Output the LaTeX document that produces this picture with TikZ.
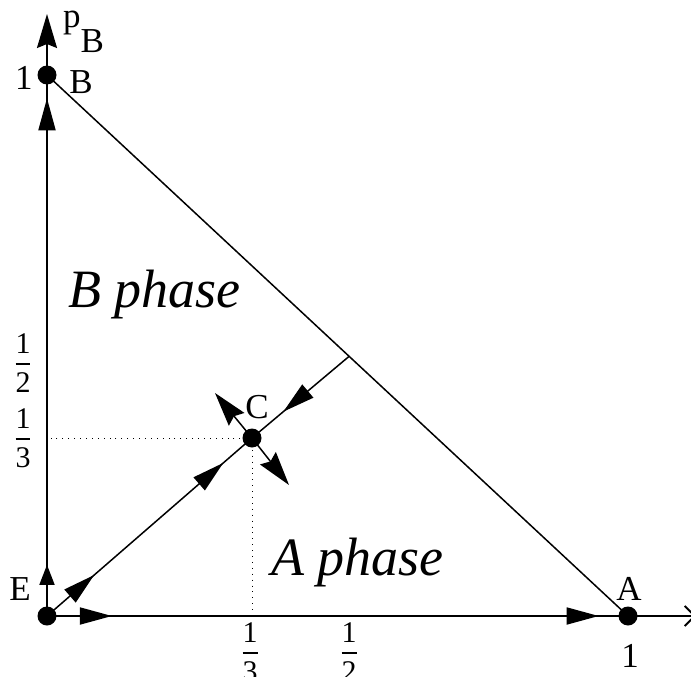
\documentclass[tikz,border=0pt]{standalone}
\usepackage{amsmath}
\usepackage{fontspec}
\setmainfont{Liberation Serif}
\usetikzlibrary{arrows.meta, decorations.markings, calc}

\newcommand{\stackfrac}[2]{$\genfrac{}{}{2.4pt}{0}{\text{#1}}{\text{#2}}$}

\begin{document}
\begin{tikzpicture}[
  x=1pt, y=-1pt,
  dot/.style={circle, fill, inner sep=0pt, minimum size=19pt},
  axis/.style={line width=1.8pt},
  edge/.style={line width=1.5pt},
  guide/.style={line width=0.9pt, dash pattern=on 0.9pt off 5pt},
  tip/.style={-{Stealth[length=34pt, width=20pt, inset=4pt]}},
  midarr/.style={postaction={decorate, decoration={markings, mark=at position #1 with {\arrow{Triangle[length=32pt, width=17pt]}}}}},
  shortarr/.style={postaction={decorate, decoration={markings, mark=at position #1 with {\arrow{Triangle[length=20pt, width=15pt]}}}}},
  lbl/.style={font=\fontsize{35}{40}\selectfont, inner sep=0pt, anchor=base},
  phase/.style={font=\fontsize{54}{60}\selectfont\itshape, inner sep=0pt, anchor=base west},
  frac/.style={font=\fontsize{30}{34}\selectfont, inner sep=0pt, anchor=base}
]
\useasboundingbox (0,0) rectangle (691,677);

% fixed points
\node[dot] (E) at (47,616) {};
\node[dot] (A) at (628,616) {};
\node[dot] (B) at (47,75) {};
\node[dot] (C) at (252,438) {};
\coordinate (F) at ($(B.center)!0.52!(A.center)$);
\coordinate (ytop) at (47,14);
\coordinate (xend) at (696,616);
\coordinate (Cul) at (215,393);
\coordinate (Cdr) at (289,485);

% axes
\draw[axis, tip, shortarr=0.085, midarr=0.86] (E.center) -- (ytop);
\draw[axis, -{Straight Barb[length=10pt, width=20pt]}, midarr=0.1, midarr=0.85] (E.center) -- (xend);

% phase boundary and flow lines
\draw[edge] (B.center) -- (A.center);
\draw[edge, midarr=0.23, midarr=0.86] (E.center) -- (C.center);
\draw[edge, midarr=0.68] (F) -- (C.center);
\draw[edge, tip] (C.center) -- (Cul);
\draw[edge, tip] (C.center) -- (Cdr);

% guides to C
\draw[guide] (C.center) -- (C.center -| E.center);
\draw[guide] (C.center) -- (C.center |- E.center);

% labels
\node[lbl, anchor=base west] (pB) at (63,28) {p\raisebox{-25pt}{B}};
\node[lbl] (oneB) at (24,89) {1};
\node[lbl] (Blbl) at (81,93) {B};
\node[lbl] (Clbl) at (257,418) {C};
\node[lbl] (Elbl) at (20,600) {E};
\node[lbl] (Albl) at (629,600) {A};
\node[lbl] (oneA) at (630,667) {1};
\node[phase] (Bph) at (68,307) {B phase};
\node[phase] (Aph) at (271,575) {A phase};
\node[frac] (yhalf) at (23,370.5) {\stackfrac{1}{2}};
\node[frac] (ythird) at (23,445.5) {\stackfrac{1}{3}};
\node[frac] (xthird) at (250,659.5) {\stackfrac{1}{3}};
\node[frac] (xhalf) at (349,659.5) {\stackfrac{1}{2}};
\end{tikzpicture}
\end{document}
